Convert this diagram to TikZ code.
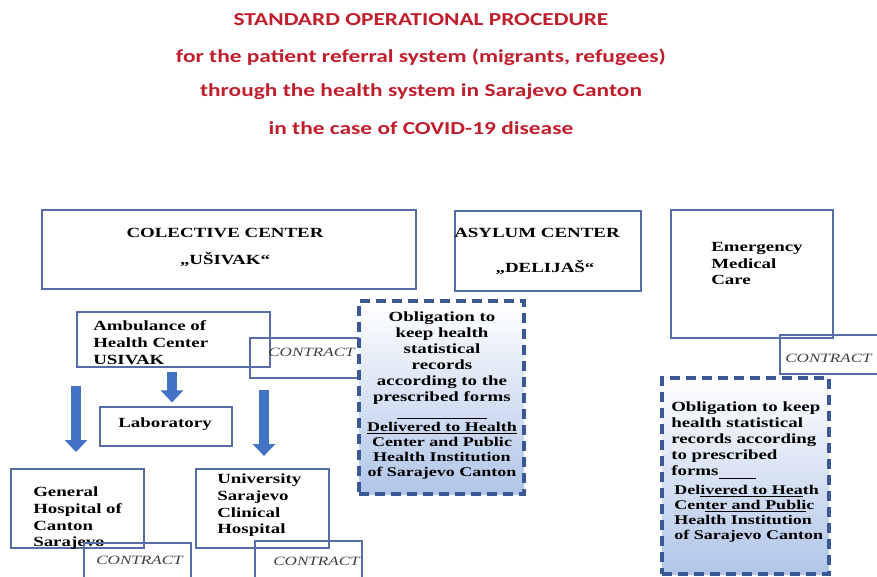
\documentclass[tikz,border=0pt]{standalone}
\usepackage{fontspec}
\setmainfont{Liberation Serif}[FakeStretch=1.35]
\newfontfamily\titlefont{Carlito}[FakeStretch=1.28]
\usetikzlibrary{arrows.meta,fit,calc}
\definecolor{boxblue}{RGB}{88,108,168}
\definecolor{dashblue}{RGB}{58,88,150}
\definecolor{dashfill}{RGB}{176,197,232}
\definecolor{arrowblue}{RGB}{68,114,196}
\definecolor{titlered}{RGB}{192,30,45}
\tikzstyle{box}=[rectangle, draw=boxblue, line width=0.9pt, inner sep=0pt]
\tikzstyle{dashbox}=[rectangle, draw=dashblue, line width=2.3pt, dash pattern=on 7.5pt off 4.5pt, top color=white, bottom color=dashfill, inner sep=0pt]
\tikzstyle{annot}=[inner sep=0pt, font=\fontsize{10.5}{12.5}\selectfont\bfseries]
\tikzstyle{contract}=[inner sep=0pt, anchor=west, font=\fontsize{9.5}{11}\selectfont\itshape, text=black!75]
\tikzstyle{headline}=[inner sep=0pt, text=titlered, font=\titlefont\fontsize{13.7}{15}\selectfont\bfseries]
\tikzstyle{bigarrow}=[draw=arrowblue, line width=6.8pt, -{Triangle[width=16.5pt,length=9pt]}]

\begin{document}
\begin{tikzpicture}[x=0.75pt, y=-0.75pt]
	\useasboundingbox (0,0) rectangle (877,576);

	\node[headline] (t1) at (421,20) {STANDARD OPERATIONAL PROCEDURE};
	\node[headline] (t2) at (421,57) {for the patient referral system (migrants, refugees)};
	\node[headline] (t3) at (421,92) {through the health system in Sarajevo Canton};
	\node[headline] (t4) at (421,128) {in the case of COVID-19 disease};

	\node[box, fit={(42,210) (416,289)}] (usivak) {};
	\node[annot] at (225,233) {COLECTIVE CENTER};
	\node[annot] at (225,259) {„UŠIVAK“};

	\node[box, fit={(455,211) (641,291)}] (delijas) {};
	\node[annot] at (537,233) {ASYLUM CENTER};
	\node[annot] at (545,267) {„DELIJAŠ“};

	\node[box, fit={(671,210) (833,338)}] (emergency) {};
	\node[annot, anchor=north west, align=left] at (711,242) {Emergency\\Medical\\Care};
	\node[box, fit={(780,335) (880,374)}] (contractE) {};
	\node[contract] at (785,358) {CONTRACT};

	\node[box, fit={(77,312) (270,367)}] (ambulance) {};
	\node[annot, anchor=north west, align=left, font=\fontsize{10.5}{12.75}\selectfont\bfseries] at (93,320) {Ambulance of\\Health Center\\USIVAK};
	\node[box, fit={(250,338) (360,378)}] (contractA) {};
	\node[contract] at (268,352) {CONTRACT};

	\node[box, fit={(100,407) (232,446)}] (lab) {};
	\node[annot] at (165,424) {Laboratory};

	\node[box, fit={(11,469) (144,548)}] (general) {};
	\node[annot, anchor=north west, align=left] at (33,487) {General\\Hospital of\\Canton\\Sarajevo};
	\node[box, fit={(84,543) (191,580)}] (contractG) {};
	\node[contract] at (96,560) {CONTRACT};

	\node[box, fit={(196,469) (329,548)}] (clinical) {};
	\node[annot, anchor=north west, align=left] at (217,474) {University\\Sarajevo\\Clinical\\Hospital};
	\node[box, fit={(255,541) (362,580)}] (contractU) {};
	\node[contract] at (273,561) {CONTRACT};

	\node[dashbox, fit={(359,301) (524,494)}] (records) {};
	\node[annot, anchor=north, align=center, font=\fontsize{10.5}{12}\selectfont\bfseries] (recA) at (442,312) {Obligation to\\keep health\\statistical\\records\\according to the\\prescribed forms};
	\draw[black, line width=0.6pt] (397,418) -- (487,418);
	\node[annot, anchor=north, align=center, font=\fontsize{10}{11.25}\selectfont\bfseries] (recB) at (442,422) {\underline{Delivered to Health}\\Center and Public\\Health Institution\\of Sarajevo Canton};

	\node[dashbox, fit={(662,378) (829,574)}] (records2) {};
	\node[annot, anchor=north west, align=left, font=\fontsize{10.5}{12}\selectfont\bfseries] (recC) at (671,402) {Obligation to keep\\health statistical\\records according\\to prescribed\\forms\underline{\hspace{28pt}}};
	\node[annot, anchor=north west, align=left, font=\fontsize{10}{11.25}\selectfont\bfseries] (recD) at (674,485) {Del\underline{ivered to Hea}th\\Cen\underline{ter and Publi}c\\Health Institution\\of Sarajevo Canton};

	\coordinate (ltail) at (76,386);
	\coordinate (lhead) at (76,452);
	\coordinate (rtail) at (264,390);
	\coordinate (rhead) at (264,456);
	\draw[bigarrow, shorten <=3pt, shorten >=3pt] (ambulance.south -| 172,0) -- (lab.north -| 172,0);
	\draw[bigarrow] (ltail) -- (lhead);
	\draw[bigarrow] (rtail) -- (rhead);
\end{tikzpicture}
\end{document}
